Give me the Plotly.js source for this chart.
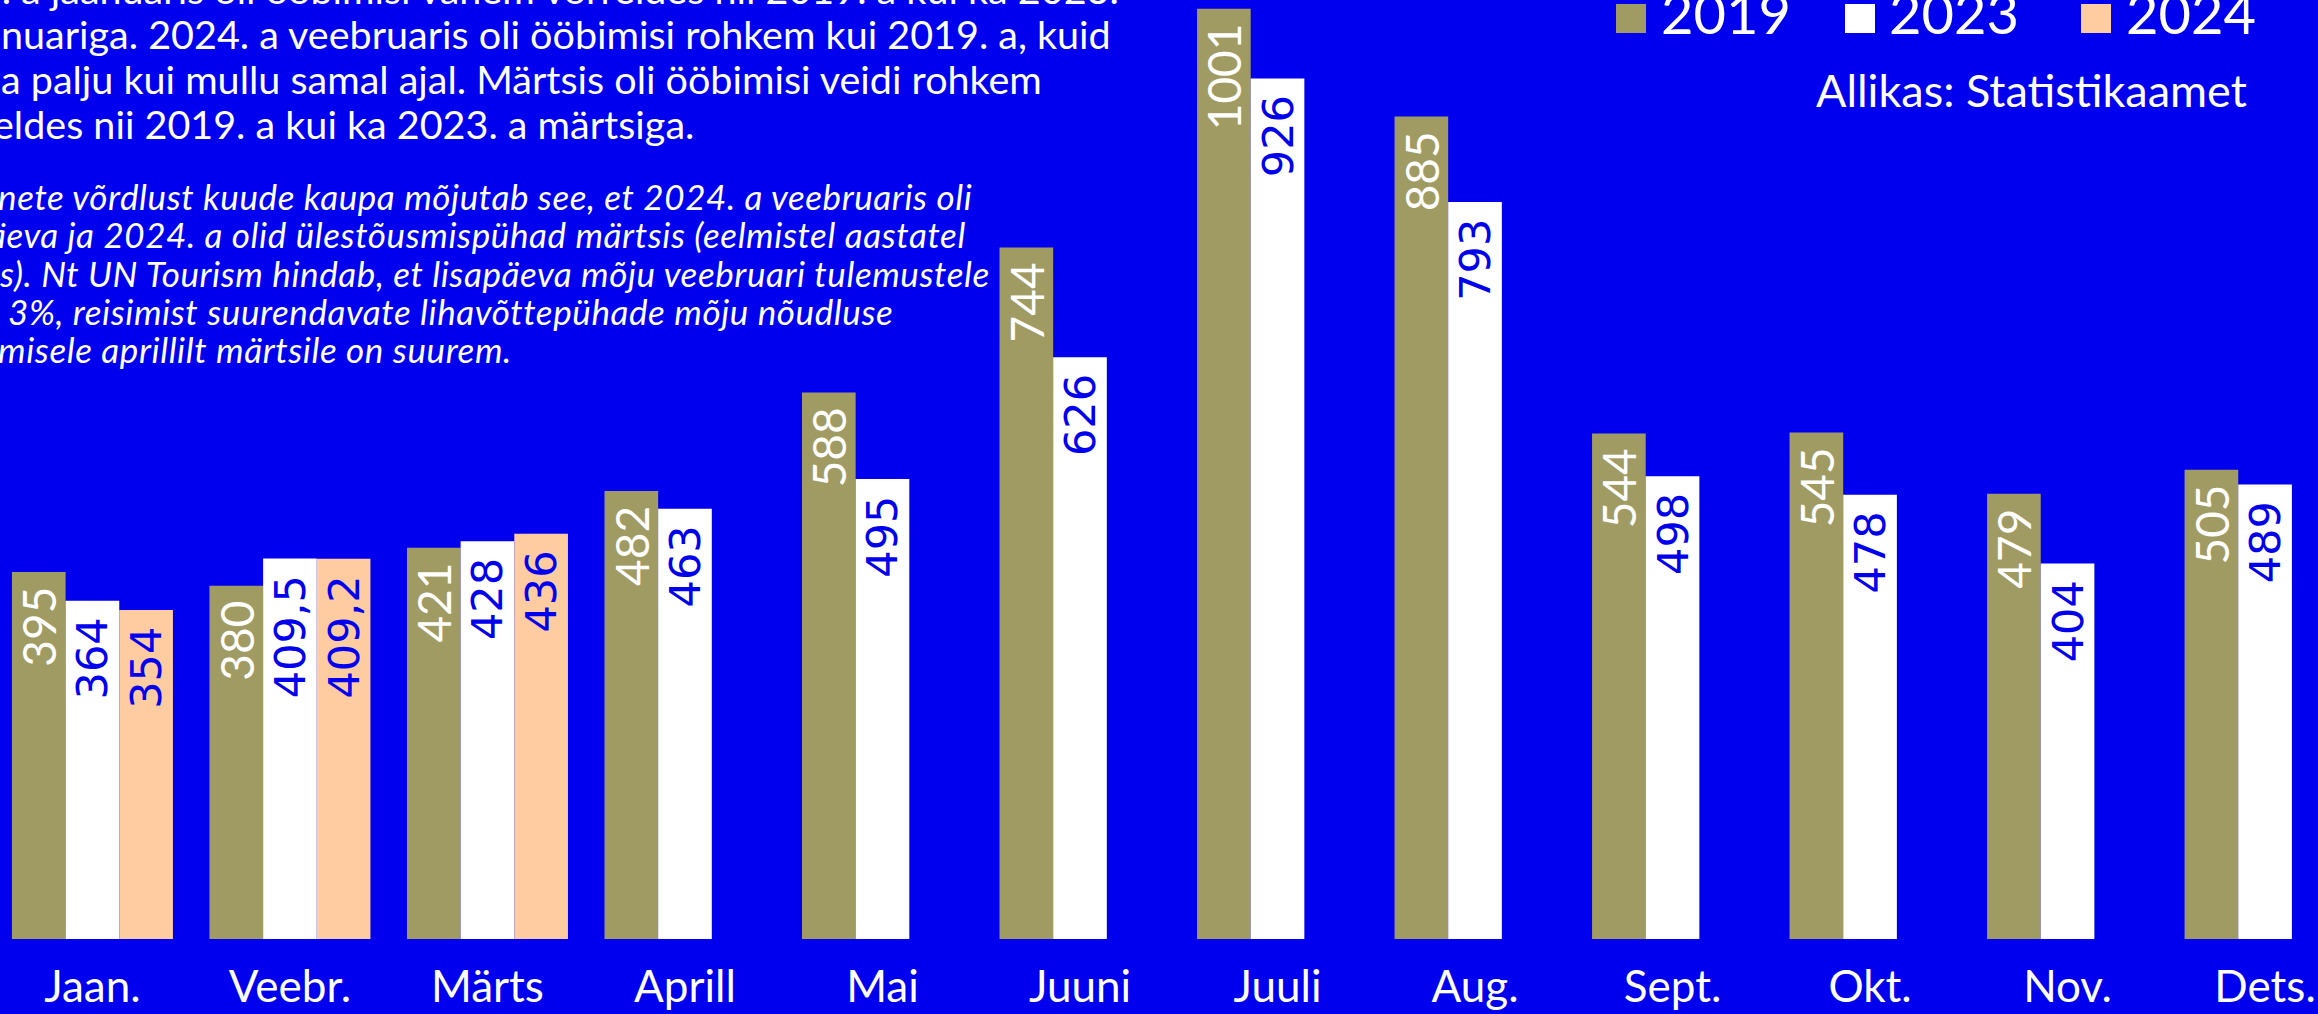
<!DOCTYPE html>
<html>
<head>
<meta charset="utf-8">
<script src="https://cdn.plot.ly/plotly-3.0.1.min.js"></script>
<style>html,body{margin:0;padding:0;background:#0000EE;overflow:hidden}</style>
</head>
<body>
<div id="chart" style="width:2318px;height:1014px"></div>
<script>
// ---- data ----
const months = ["Jaan.", "Veebr.", "Märts", "Aprill", "Mai", "Juuni", "Juuli", "Aug.", "Sept.", "Okt.", "Nov.", "Dets."];
const seriesNames = ["2019", "2023", "2024"];
const values2019 = [395, 380, 421, 482, 588, 744, 1001, 885, 544, 545, 479, 505];
const values2023 = [364, 409.5, 428, 463, 495, 626, 926, 793, 498, 478, 404, 489];
const values2024 = [354, 409.2, 436, null, null, null, null, null, null, null, null, null];
const titleLines = [
  "2024. a jaanuaris oli ööbimisi vähem võrreldes nii 2019. a kui ka 2023.",
  "nuariga. 2024. a veebruaris oli ööbimisi rohkem kui 2019. a, kuid",
  "a palju kui mullu samal ajal. Märtsis oli ööbimisi veidi rohkem",
  "eldes nii 2019. a kui ka 2023. a märtsiga."
];
const noteLines = [
  "nete võrdlust kuude kaupa mõjutab see, et 2024. a veebruaris oli",
  "äeva ja 2024. a olid ülestõusmispühad märtsis (eelmistel aastatel",
  "s). Nt UN Tourism hindab, et lisapäeva mõju veebruari tulemustele",
  "3%, reisimist suurendavate lihavõttepühade mõju nõudluse",
  "misele aprillilt märtsile on suurem."
];
const sourceText = "Allikas: Statistikaamet";

// ---- style ----
const BG = "#0000EE";
const colors = ["#A09B62", "#FFFFFF", "#FFCBA0"];
const labelColors = ["#FFFFFF", BG, BG];
const labelFonts = ["Lato", "DejaVu Sans", "DejaVu Sans"];
const labelSizes = [46, 43, 43];
const FONT = "Lato";

const W = 2318, H = 1014, BASE = 939;
const px = x => x / W;
const py = y => (BASE - y) / BASE;

function fmt(v) { return v == null ? "" : String(v).replace(".", ",") + "\u00a0"; }

const allVals = [values2019, values2023, values2024];
const traces = allVals.map((vals, i) => ({
  type: "bar",
  name: seriesNames[i],
  x: months,
  y: vals,
  text: vals.map(fmt),
  textposition: "inside",
  insidetextanchor: "end",
  textangle: -90,
  constraintext: "none",
  textfont: {family: labelFonts[i], size: labelSizes[i], color: labelColors[i]},
  marker: {color: colors[i], line: {width: 0}},
  hoverinfo: "skip"
}));

const annotations = [];
// regular text block
const titleX = [-91, 0, 0, -8];
const titleBase = [4, 49, 94, 139];
const TS = 39.5;
titleLines.forEach((t, i) => annotations.push({
  xref: "paper", yref: "paper", x: px(titleX[i]), y: py(titleBase[i] + TS * 0.22),
  xanchor: "left", yanchor: "bottom", showarrow: false, text: t, borderpad: 0,
  font: {family: FONT, size: TS, color: "#FFFFFF"}
}));
// italic note block
const noteX = [-3, -13, -2, 7, -3];
const noteBase = [210, 248, 287, 325, 363];
const NS = 35;
noteLines.forEach((t, i) => annotations.push({
  xref: "paper", yref: "paper", x: px(noteX[i]), y: py(noteBase[i] + NS * 0.22),
  xanchor: "left", yanchor: "bottom", showarrow: false,
  text: "<span style=\"letter-spacing:0.6px\"><i>" + t + "</i></span>", borderpad: 0,
  font: {family: FONT, size: NS, color: "#FFFFFF", style: "italic"}
}));
// custom legend
const legX = [1660, 1888, 2125];
const swX = [1616, 1845, 2081];
const LS = 56;
const shapes = [];
seriesNames.forEach((n, i) => {
  annotations.push({
    xref: "paper", yref: "paper", x: px(legX[i]), y: py(35 + LS * 0.22),
    xanchor: "left", yanchor: "bottom", showarrow: false, text: n, borderpad: 0,
    font: {family: FONT, size: LS, color: "#FFFFFF"}
  });
  shapes.push({type: "rect", xref: "paper", yref: "paper",
    x0: px(swX[i]), x1: px(swX[i] + 30), y0: py(33), y1: py(4),
    fillcolor: colors[i], line: {width: 0}});
});
annotations.push({
  xref: "paper", yref: "paper", x: px(2248), y: py(108 + 45 * 0.22),
  xanchor: "right", yanchor: "bottom", showarrow: false, text: sourceText, borderpad: 0,
  font: {family: FONT, size: 45, color: "#FFFFFF"}
});

const layout = {
  width: W, height: H,
  margin: {l: 0, r: 0, t: 0, b: H - BASE, pad: 0},
  paper_bgcolor: BG, plot_bgcolor: BG,
  barmode: "group", bargap: 0.185, bargroupgap: 0,
  showlegend: false,
  font: {family: FONT, color: "#FFFFFF"},
  xaxis: {
    type: "category", range: [-0.468, 11.268],
    showgrid: false, zeroline: false, showline: false, ticks: "",
    ticklabelstandoff: 18,
    tickfont: {family: FONT, size: 44, color: "#FFFFFF"}
  },
  yaxis: {range: [0, 1010.4], visible: false, showgrid: false, zeroline: false, fixedrange: true},
  annotations: annotations,
  shapes: shapes
};

Plotly.newPlot("chart", traces, layout, {displayModeBar: false, staticPlot: true});
</script>
</body>
</html>
